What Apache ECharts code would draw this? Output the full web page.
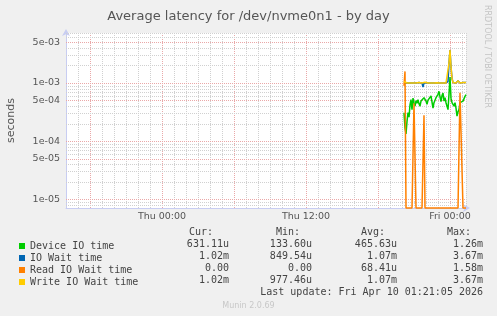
<!DOCTYPE html>
<html>
<head>
<meta charset="utf-8">
<script src="https://cdn.jsdelivr.net/npm/echarts@6/dist/echarts.min.js"></script>
<style>
  html, body { margin: 0; padding: 0; background: #f0f0f0; }
  #chart { width: 497px; height: 316px; }
</style>
</head>
<body>
<div id="chart"></div>
<script>
// first sample Thu 20:10, one sample every 5 minutes
const startHour = 20 + 10 / 60
const stepMin = 5

const deviceIO = [
  3.1e-4, 1.7e-4, 1.34e-4, 2.2e-4, 3.1e-4, 2.6e-4, 4.2e-4, 5.2e-4, 3.5e-4, 5.5e-4,
  4.6e-4, 4.0e-4, 5.0e-4, 4.5e-4, 5.2e-4, 4.4e-4, 4.0e-4, 4.9e-4, 5.3e-4, 4.8e-4,
  5.6e-4, 5.9e-4, 4.9e-4, 4.3e-4, 5.1e-4, 4.8e-4, 5.5e-4, 6.0e-4, 5.9e-4, 3.7e-4,
  4.6e-4, 4.9e-4, 5.6e-4, 5.5e-4, 6.4e-4, 7.2e-4, 5.8e-4, 4.8e-4, 6.1e-4, 6.7e-4,
  4.9e-4, 5.6e-4, 4.6e-4, 4.3e-4, 3.5e-4, 6.5e-4, 1.26e-3, 5.5e-4, 4.6e-4, 4.9e-4,
  4.0e-4, 4.6e-4, 3.7e-4, 2.7e-4, 3.2e-4, 3.5e-4, 4.6e-4, 4.9e-4, 4.7e-4, 4.9e-4,
  5.3e-4, 5.9e-4, 6.31e-4
]
const ioWait = [
  0.98e-3, 1.0e-3, 0.99e-3, 1.0e-3, 1.0e-3, 0.99e-3, 1.0e-3, 1.0e-3, 1.01e-3, 1.0e-3,
  1.0e-3, 1.01e-3, 1.0e-3, 1.05e-3, 1.06e-3, 1.02e-3, 1.05e-3, 1.0e-3, 1.0e-3, 0.85e-3,
  1.0e-3, 1.03e-3, 1.0e-3, 1.0e-3, 1.0e-3, 1.01e-3, 1.0e-3, 1.0e-3, 1.0e-3, 1.0e-3,
  1.0e-3, 1.0e-3, 1.0e-3, 1.01e-3, 1.0e-3, 1.0e-3, 1.0e-3, 1.0e-3, 1.0e-3, 1.0e-3,
  1.0e-3, 1.0e-3, 1.0e-3, 1.0e-3, 1.05e-3, 2.2e-3, 3.67e-3, 1.9e-3, 1.2e-3, 1.02e-3,
  1.0e-3, 1.08e-3, 1.0e-3, 1.02e-3, 1.09e-3, 1.02e-3, 1.0e-3, 1.03e-3, 1.02e-3, 1.02e-3,
  1.02e-3, 1.02e-3, 1.02e-3
]
const readWait = [
  9e-4, 1.58e-3, 0, 0, 0, 0, 0, 0, 0, 0,
  4.5e-4, 4.5e-4, 0, 0, 0, 0, 0, 0, 0, 0,
  2.8e-4, 0, 0, 0, 0, 0, 0, 0, 0, 0,
  0, 0, 0, 0, 0, 0, 0, 0, 0, 0,
  0, 0, 0, 0, 0, 0, 0, 0, 0, 0,
  0, 0, 0, 0, 0, 0, 6.8e-4, 7.2e-4, 6.5e-4, 0,
  0, 0, 0
]
const writeWait = [
  1.06e-3, 1.0e-3, 0.99e-3, 1.0e-3, 1.0e-3, 0.99e-3, 1.0e-3, 1.0e-3, 1.01e-3, 1.0e-3,
  1.0e-3, 1.01e-3, 1.0e-3, 1.05e-3, 1.06e-3, 1.02e-3, 1.05e-3, 1.0e-3, 1.0e-3, 1.0e-3,
  1.0e-3, 1.03e-3, 1.0e-3, 1.0e-3, 1.0e-3, 1.01e-3, 1.0e-3, 1.0e-3, 1.0e-3, 1.0e-3,
  1.0e-3, 1.0e-3, 1.0e-3, 1.01e-3, 1.0e-3, 1.0e-3, 1.0e-3, 1.0e-3, 1.0e-3, 1.0e-3,
  1.0e-3, 1.0e-3, 1.0e-3, 1.0e-3, 1.05e-3, 2.2e-3, 3.67e-3, 1.9e-3, 1.2e-3, 1.02e-3,
  1.0e-3, 1.08e-3, 1.0e-3, 1.02e-3, 1.09e-3, 1.02e-3, 1.0e-3, 1.03e-3, 1.02e-3, 1.02e-3,
  1.02e-3, 1.02e-3, 1.02e-3
]

const names = ['Device IO time', 'IO Wait time', 'Read IO Wait time', 'Write IO Wait time']
const colors = ['#00cc00', '#0066b3', '#ff8000', '#ffcc00']
const curVals = ['631.11u', '1.02m', '0.00', '1.02m']
const minVals = ['133.60u', '849.54u', '0.00', '977.46u']
const avgVals = ['465.63u', '1.07m', '68.41u', '1.07m']
const maxVals = ['1.26m', '3.67m', '1.58m', '3.67m']

const xTickHours = [0, 12, 24]
const xTickLabels = ['Thu 00:00', 'Thu 12:00', 'Fri 00:00']
const yTickValues = [5e-3, 1e-3, 5e-4, 1e-4, 5e-5, 1e-5]
const yTickLabels = ['5e-03', '1e-03', '5e-04', '1e-04', '5e-05', '1e-05']

const yMin = 7.2e-6
const yMax = 7.2e-3

const gray = '#d0d0d0'
const red = '#eaa8a8'
const axisColor = '#c8cdf2'

// 数据点 -> [小时, 值], 0 画在底部
function toPoints (arr) {
  return arr.map((v, i) => [startHour + i * stepMin / 60, v > 0 ? v : yMin])
}

// 横向网格线, 画在隐藏的 log10 数值轴上 (1..9 倍)
const gridMarks = []
for (let d = -6; d <= -3; d++) {
  [2, 3, 4, 6, 7, 8, 9].forEach(m => {
    const v = m * Math.pow(10, d)
    if (v > yMin && v < yMax) {
      gridMarks.push({ yAxis: Math.log10(v), lineStyle: { color: gray }, label: { show: false } })
    }
  })
}
yTickValues.forEach((v, i) => {
  gridMarks.push({
    yAxis: Math.log10(v),
    lineStyle: { color: red },
    label: { show: true, formatter: yTickLabels[i] }
  })
})

const mono = 'DejaVu Sans Mono'
const txtColor = '#444'

function text (str, x, y, align, opts) {
  return {
    type: 'text',
    silent: true,
    style: Object.assign({
      text: str,
      x: x,
      y: y,
      fill: txtColor,
      font: '10px "' + mono + '"',
      align: align,
      textAlign: align,
      verticalAlign: 'middle',
      textVerticalAlign: 'middle'
    }, opts || {})
  }
}

const graphics = [
  text('Cur:', 213, 232.5, 'right'),
  text('Min:', 300, 232.5, 'right'),
  text('Avg:', 385, 232.5, 'right'),
  text('Max:', 471, 232.5, 'right'),
  text('Last update: Fri Apr 10 01:21:05 2026', 483, 292.5, 'right'),
  text('Munin 2.0.69', 248.5, 305.5, 'center', { fill: '#c8c8c8', font: '8px "DejaVu Sans"' }),
  {
    type: 'text',
    silent: true,
    x: 487.5,
    y: 5,
    rotation: -Math.PI / 2,
    style: {
      text: 'RRDTOOL / TOBI OETIKER',
      fill: '#c4c4c4',
      font: '8px "DejaVu Sans"',
      align: 'left',
      textAlign: 'left',
      verticalAlign: 'middle',
      textVerticalAlign: 'middle'
    }
  }
]
names.forEach((n, i) => {
  const y = 244.5 + i * 12
  graphics.push(text(curVals[i], 229, y, 'right'))
  graphics.push(text(minVals[i], 312, y, 'right'))
  graphics.push(text(avgVals[i], 397, y, 'right'))
  graphics.push(text(maxVals[i], 483, y, 'right'))
})

const seriesData = [deviceIO, ioWait, readWait, writeWait]

// 网格线挂在一个不可见的系列上
const series = [{
  name: 'grid',
  type: 'line',
  yAxisIndex: 1,
  data: [[-8, Math.log10(yMin)]],
  symbol: 'none',
  showSymbol: false,
  lineStyle: { width: 0 },
  z: 1,
  silent: true,
  markLine: {
    silent: true,
    z: 1,
    symbol: ['none', 'none'],
    animation: false,
    lineStyle: { type: [1, 1], width: 1 },
    label: {
      position: 'start',
      distance: 6,
      color: '#555',
      fontFamily: 'DejaVu Sans',
      fontSize: 9.5
    },
    emphasis: { disabled: true },
    data: gridMarks
  }
}].concat(seriesData.map((arr, i) => ({
  name: names[i],
  type: 'line',
  data: toPoints(arr),
  showSymbol: false,
  symbol: 'none',
  clip: false,
  z: 3 + i,
  color: colors[i],
  lineStyle: { width: 1.5, color: colors[i] }
})))

const chart = echarts.init(document.getElementById('chart'))

chart.setOption({
  backgroundColor: '#f0f0f0',
  animation: false,
  title: {
    text: 'Average latency for /dev/nvme0n1 - by day',
    left: 'center',
    top: 5,
    textStyle: { fontFamily: 'DejaVu Sans', fontSize: 13, fontWeight: 'normal', color: '#555' }
  },
  grid: {
    left: 66,
    top: 33,
    width: 400,
    height: 175,
    outerBoundsMode: 'none',
    containLabel: false,
    show: true,
    backgroundColor: '#ffffff',
    borderWidth: 0
  },
  legend: {
    data: names,
    orient: 'vertical',
    left: 14,
    top: 235,
    icon: 'rect',
    itemWidth: 6,
    itemHeight: 6,
    itemGap: 0,
    selectedMode: false,
    textStyle: { fontFamily: mono, fontSize: 10, color: txtColor, lineHeight: 12 }
  },
  xAxis: {
    type: 'value',
    min: -8,
    max: 25 + 1 / 3,
    interval: 1,
    axisLine: {
      show: true,
      onZero: false,
      lineStyle: { color: axisColor },
      symbol: ['none', 'arrow'],
      symbolSize: [6, 7],
      symbolOffset: [0, 4]
    },
    axisTick: { show: false },
    axisLabel: {
      margin: 4,
      color: '#555',
      fontFamily: 'DejaVu Sans',
      fontSize: 9.5,
      formatter: v => {
        const i = xTickHours.indexOf(v)
        return i >= 0 ? xTickLabels[i] : ''
      }
    },
    splitLine: {
      show: true,
      lineStyle: { type: [1, 1], width: 1, color: [gray, gray, red, gray, gray, gray] }
    }
  },
  yAxis: [{
    type: 'log',
    min: yMin,
    max: yMax,
    name: 'seconds',
    nameLocation: 'middle',
    nameGap: 49,
    nameTextStyle: { fontFamily: 'DejaVu Sans', fontSize: 11, color: '#555' },
    axisLine: {
      show: true,
      onZero: false,
      lineStyle: { color: axisColor },
      symbol: ['none', 'arrow'],
      symbolSize: [6, 7],
      symbolOffset: [0, 4]
    },
    axisTick: { show: false },
    axisLabel: { show: false },
    splitLine: { show: false }
  }, {
    type: 'value',
    show: false,
    position: 'left',
    min: Math.log10(yMin),
    max: Math.log10(yMax),
    splitLine: { show: false }
  }],
  graphic: graphics,
  series: series
})
</script>
</body>
</html>
